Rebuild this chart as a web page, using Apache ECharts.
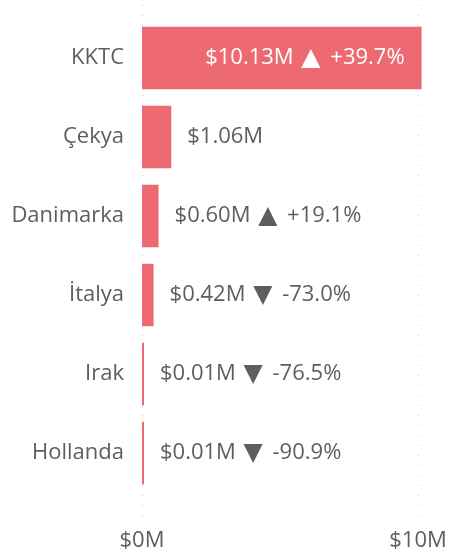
<!DOCTYPE html>
<html><head><meta charset="utf-8">
<script src="https://cdn.jsdelivr.net/npm/echarts@6/dist/echarts.min.js"></script>
<style>html,body{margin:0;padding:0;background:#fff}#c{width:450px;height:553px}</style>
</head><body><div id="c"></div>
<script>
const categories = ['KKTC', 'Çekya', 'Danimarka', 'İtalya', 'Irak', 'Hollanda'];
const values = [10.13, 1.06, 0.60, 0.42, 0.01, 0.01];
const changes = [39.7, null, 19.1, -73.0, -76.5, -90.9];
const xTicks = [0, 10];

const FONT = '"Open Sans", "Noto Sans", sans-serif';
const TXT = '#605E5C';
const BAR = '#ED6A72';

function labelText(i) {
  let s = '$' + values[i].toFixed(2) + 'M';
  const c = changes[i];
  if (c !== null) s += ' {t|' + (c >= 0 ? '▲' : '▼') + '} ' + (c >= 0 ? '+' : '') + c.toFixed(1) + '%';
  return s;
}

const data = values.map((v, i) => {
  const inside = v > 5;
  return {
    value: v,
    label: inside
      ? { position: 'insideRight', distance: 17, color: '#fff' }
      : { position: 'right', distance: 16, color: TXT }
  };
});

const chart = echarts.init(document.getElementById('c'));
chart.setOption({
  animation: false,
  textStyle: { fontFamily: FONT },
  grid: [
    { left: 142, right: 32, top: 5, bottom: 33 },
    { left: 142, right: 32, top: 18.5, height: 474 }
  ],
  xAxis: [
    {
      gridIndex: 0, type: 'value', min: xTicks[0], max: xTicks[1], interval: 10,
      axisLine: { show: false }, axisTick: { show: false },
      splitLine: { show: true, lineStyle: { color: '#C8C8C8', type: [1, 9], width: 1 } },
      axisLabel: { color: TXT, fontSize: 22, fontFamily: FONT, margin: 10,
        formatter: v => '$' + v + 'M' }
    },
    {
      gridIndex: 1, type: 'value', min: xTicks[0], max: xTicks[1], show: false,
      splitLine: { show: false }
    }
  ],
  yAxis: [
    { gridIndex: 0, type: 'category', data: categories, show: false },
    {
      gridIndex: 1, type: 'category', data: categories, inverse: true,
      axisLine: { show: false }, axisTick: { show: false },
      axisLabel: { color: TXT, fontSize: 22, fontFamily: FONT, margin: 18 }
    }
  ],
  series: [{
    type: 'bar', xAxisIndex: 1, yAxisIndex: 1, clip: false,
    data: data, barCategoryGap: '21%', barMinHeight: 2,
    itemStyle: { color: BAR },
    label: { show: true, fontSize: 22, fontFamily: FONT, lineHeight: 26,
      formatter: p => labelText(p.dataIndex),
      rich: { t: { fontFamily: 'DejaVu Sans', fontSize: 25, lineHeight: 26, padding: [0, 4, 0, 2] } } }
  }]
});
</script></body></html>
